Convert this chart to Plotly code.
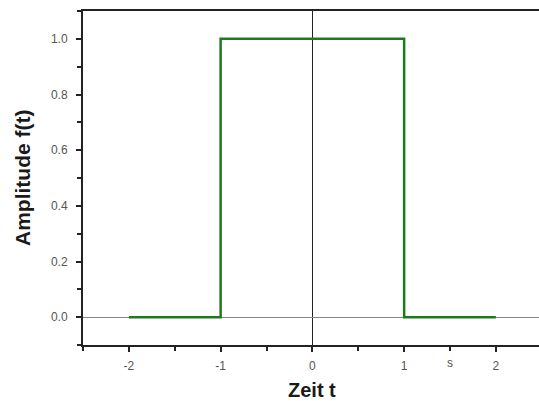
import plotly.graph_objects as go

# Rectangular pulse data
t = [-2, -1, -1, 1, 1, 2]
f = [0, 0, 1, 1, 0, 0]

x_tickvals = [-2, -1, 0, 1, 2]
x_ticktext = ["-2", "-1", "0", "1", "2"]
y_tickvals = [0.0, 0.2, 0.4, 0.6, 0.8, 1.0]
y_ticktext = ["0.0", "0.2", "0.4", "0.6", "0.8", "1.0"]
unit_label = "s"
unit_pos = 1.5
x_title = "Zeit t"
y_title = "Amplitude f(t)"

W, H = 539, 401
ML, MR, MT, MB = 83, 0, 11, 56

fig = go.Figure()
fig.add_trace(go.Scatter(x=t, y=f, mode="lines",
                         line=dict(color="#1f7a1f", width=2.5),
                         showlegend=False, hoverinfo="skip"))

axis_font = dict(family="Liberation Sans", size=12, color="#555555")
title_font = dict(family="Liberation Sans", size=20, color="#1a1a1a")

pw, ph = W - ML - MR, H - MT - MB

fig.update_layout(
    width=W, height=H,
    margin=dict(l=ML, r=MR, t=MT, b=MB, autoexpand=False),
    paper_bgcolor="white", plot_bgcolor="white",
    xaxis=dict(
        range=[-2.5, 2.47],
        tickvals=x_tickvals, ticktext=x_ticktext,
        ticks="outside", ticklen=5, tickwidth=1.5, tickcolor="#222222",
        minor=dict(dtick=0.5, tick0=0, ticks="outside", ticklen=4, tickwidth=1.5, tickcolor="#222222"),
        showline=True, linecolor="#222222", linewidth=2, mirror=True,
        showgrid=False, automargin=False,
        zeroline=True, zerolinecolor="#222222", zerolinewidth=1,
        tickfont=axis_font,
        ticklabelstandoff=4,
    ),
    yaxis=dict(
        range=[-0.1, 1.1],
        tickvals=y_tickvals, ticktext=y_ticktext,
        ticks="outside", ticklen=5, tickwidth=1.5, tickcolor="#222222",
        minor=dict(dtick=0.1, tick0=0, ticks="outside", ticklen=4, tickwidth=1.5, tickcolor="#222222"),
        showline=True, linecolor="#222222", linewidth=2,
        showgrid=False, automargin=False,
        zeroline=True, zerolinecolor="#888888", zerolinewidth=1,
        tickfont=axis_font,
        ticklabelstandoff=6,
    ),
    annotations=[
        dict(x=unit_pos, y=0, xref="x", yref="paper", text=unit_label,
             showarrow=False, yanchor="top", yshift=-9, font=axis_font),
        dict(x=0, y=-(390 - (H - MB)) / ph, xref="x", yref="paper",
             text="<b>%s</b>" % x_title,
             showarrow=False, yanchor="middle", xanchor="center", font=title_font),
        dict(x=-(ML - 22) / pw, y=0.5, xref="paper", yref="paper",
             text="<b>%s</b>" % y_title,
             showarrow=False, textangle=-90, xanchor="center", yanchor="middle",
             font=dict(family="Liberation Sans", size=21, color="#1a1a1a")),
    ],
)

fig.write_html("out.html", config={"displayModeBar": False},
               post_script="document.body.style.margin='0';document.body.style.overflow='hidden';")
